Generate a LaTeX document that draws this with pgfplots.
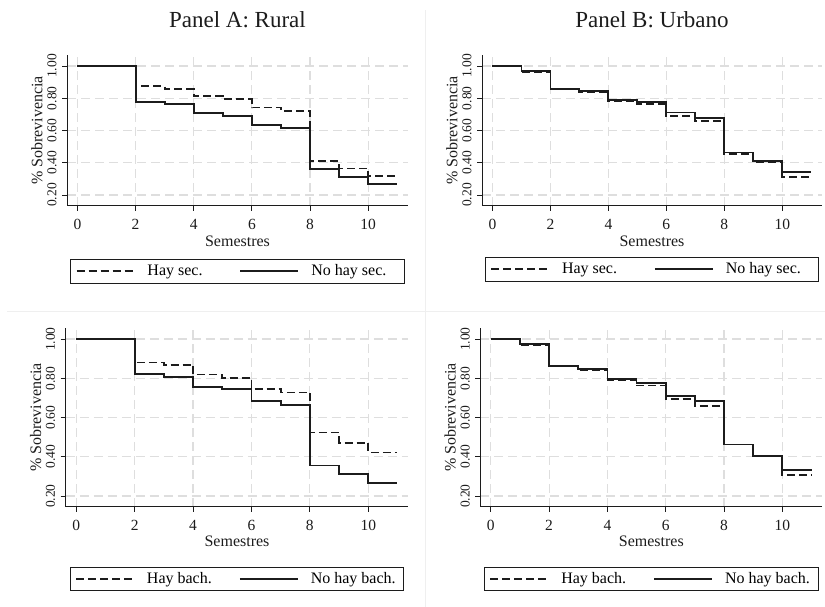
\documentclass[border=0pt]{standalone}
\usepackage{fontspec}
\setmainfont{Liberation Serif}
\usepackage{pgfplots}
\pgfplotsset{compat=1.18}
\definecolor{gridc}{HTML}{DEDEDE}
\definecolor{linec}{HTML}{1C1C1C}
\definecolor{sepc}{HTML}{EFEFEF}
\newcommand{\lent}[1]{\makebox[86pt][l]{#1}}
\pgfplotsset{
  km/.style={
    scale only axis,
    anchor=south west,
    axis lines=left,
    axis line style={-, line width=1.0pt, color=linec},
    tick align=outside, tick pos=left,
    major tick length=5pt,
    every tick/.style={line width=0.9pt, color=linec},
    xmin=-0.36, xmax=11.37,
    xtick={0,2,4,6,8,10},
    ytick={0.2,0.4,0.6,0.8,1.0},
    grid=major,
    major grid style={color=gridc, line width=1.2pt, dash pattern=on 9pt off 5pt},
    /pgf/number format/assume math mode=true,
    xticklabel style={font=\fontsize{15.5}{17}\selectfont, color=linec, yshift=-5pt},
    yticklabel style={font=\fontsize{13.5}{15}\selectfont, rotate=90, anchor=south, color=linec, yshift=2pt,
      /pgf/number format/.cd, fixed, fixed zerofill, precision=2},
    xlabel={Semestres},
    ylabel={\% Sobrevivencia},
    label style={font=\fontsize{16}{18}\selectfont, color=linec},
    xlabel style={at={(axis description cs:0.5,0)}, anchor=center, yshift=-35pt},
    ylabel style={at={(axis description cs:0,0.5)}, anchor=center, yshift=30pt},
    title style={font=\fontsize{23}{26}\selectfont, at={(axis description cs:0.5,1)}, anchor=center, yshift=29pt, color=linec},
    legend columns=2,
    legend image code/.code={\draw[#1] (0pt,0pt) -- (58pt,0pt);},
    legend style={at={(axis description cs:0.5,0)}, anchor=north, draw=linec, line width=0.8pt,
      font=\fontsize{16}{18}\selectfont, inner xsep=5pt, inner ysep=3.5pt,
      nodes={inner sep=2pt},
      /tikz/every odd column/.append style={column sep=10pt},
      /tikz/every even column/.append style={column sep=4pt}},
  },
  dsh/.style={const plot, color=linec, line width=1.8pt, dash pattern=on 8pt off 4pt},
  sld/.style={const plot, color=linec, line width=1.8pt},
}
\begin{document}
\begin{tikzpicture}[x=1pt,y=1pt]
\useasboundingbox (0,0) rectangle (825,607);
\draw[sepc, line width=1pt] (425,597) -- (425,0);
\draw[sepc, line width=1pt] (7,295.3) -- (825,295.3);

% Panel A
\begin{axis}[km, at={(67pt,401pt)}, width=341pt, height=151pt,
  ymin=0.132, ymax=1.068, title={Panel A: Rural},
  legend style={yshift=-53pt}]
\addplot[dsh] coordinates {(0,1) (2,0.876) (3,0.857) (4,0.814) (5,0.795) (6,0.742) (7,0.721) (8,0.411) (9,0.365) (10,0.318) (11,0.318)};
\addlegendentry{\lent{Hay sec.}}
\addplot[sld] coordinates {(0,1) (2,0.777) (3,0.762) (4,0.706) (5,0.692) (6,0.634) (7,0.613) (8,0.359) (9,0.312) (10,0.268) (11,0.268)};
\addlegendentry{\lent{No hay sec.}}
\end{axis}

% Panel B
\begin{axis}[km, at={(482pt,401pt)}, width=340pt, height=151pt,
  ymin=0.132, ymax=1.068, title={Panel B: Urbano},
  legend style={yshift=-51pt}]
\addplot[dsh] coordinates {(0,1) (1,0.963) (2,0.855) (3,0.841) (4,0.785) (5,0.764) (6,0.690) (7,0.659) (8,0.456) (9,0.403) (10,0.310) (11,0.310)};
\addlegendentry{\lent{Hay sec.}}
\addplot[sld] coordinates {(0,1) (1,0.971) (2,0.859) (3,0.845) (4,0.789) (5,0.775) (6,0.711) (7,0.678) (8,0.463) (9,0.411) (10,0.345) (11,0.345)};
\addlegendentry{\lent{No hay sec.}}
\end{axis}

% Panel C
\begin{axis}[km, at={(65.7pt,100.3pt)}, width=342.6pt, height=178.4pt,
  ymin=0.146, ymax=1.055,
  legend style={yshift=-60pt}]
\addplot[dsh] coordinates {(0,1) (2,0.881) (3,0.869) (4,0.820) (5,0.803) (6,0.747) (7,0.728) (8,0.524) (9,0.472) (10,0.422) (11,0.422)};
\addlegendentry{\lent{Hay bach.}}
\addplot[sld] coordinates {(0,1) (2,0.823) (3,0.808) (4,0.757) (5,0.744) (6,0.686) (7,0.665) (8,0.356) (9,0.312) (10,0.268) (11,0.268)};
\addlegendentry{\lent{No hay bach.}}
\end{axis}

% Panel D
\begin{axis}[km, at={(480.3pt,100.3pt)}, width=342pt, height=178.4pt,
  ymin=0.146, ymax=1.055,
  legend style={yshift=-60pt}]
\addplot[dsh] coordinates {(0,1) (1,0.968) (2,0.861) (3,0.843) (4,0.790) (5,0.764) (6,0.693) (7,0.659) (8,0.463) (9,0.404) (10,0.307) (11,0.307)};
\addlegendentry{\lent{Hay bach.}}
\addplot[sld] coordinates {(0,1) (1,0.975) (2,0.861) (3,0.847) (4,0.797) (5,0.776) (6,0.711) (7,0.684) (8,0.463) (9,0.404) (10,0.333) (11,0.333)};
\addlegendentry{\lent{No hay bach.}}
\end{axis}
\end{tikzpicture}
\end{document}
